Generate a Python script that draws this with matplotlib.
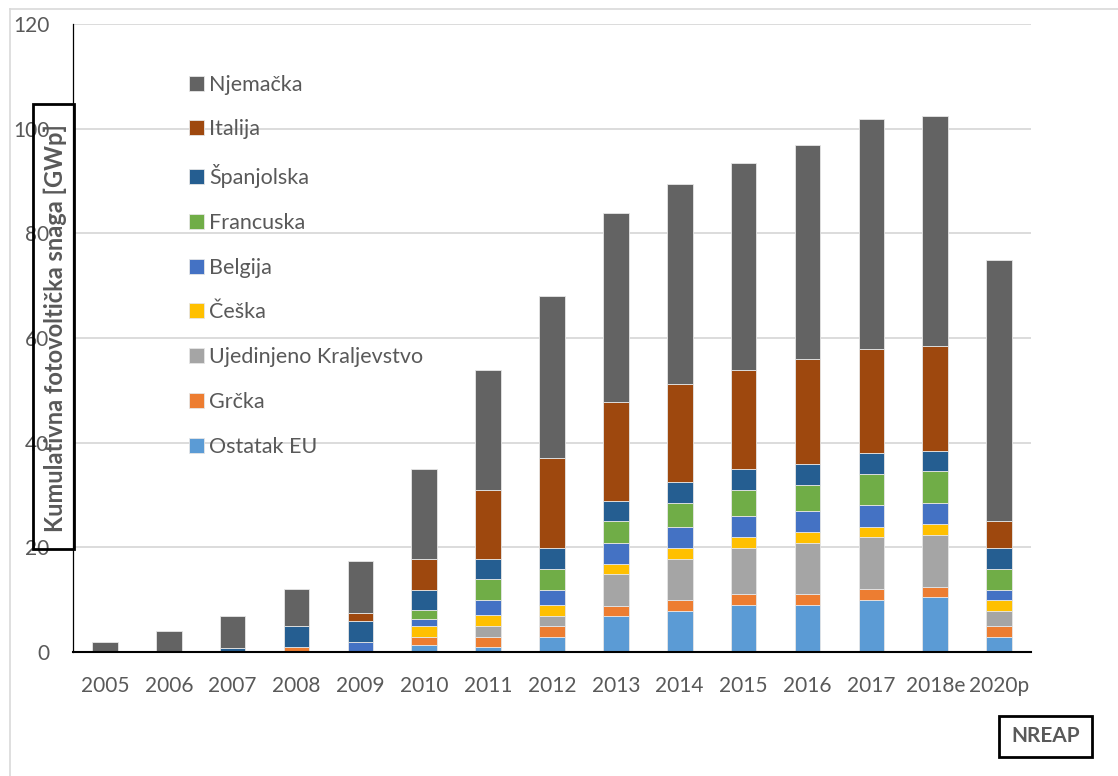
import matplotlib.pyplot as plt
import numpy as np
from matplotlib.patches import Rectangle
from matplotlib.lines import Line2D

plt.rcParams['font.family'] = ['Lato', 'DejaVu Sans']

# --- data (GWp, stacked per year) ---
years = ['2005', '2006', '2007', '2008', '2009', '2010', '2011', '2012', '2013',
         '2014', '2015', '2016', '2017', '2018e', '2020p']

ostatak = [0, 0, 0, 0, 0, 1.4, 0.9, 2.9, 6.9, 7.9, 8.9, 8.9, 10.0, 10.5, 2.9]
grcka = [0, 0, 0, 1.0, 0, 1.5, 2.0, 2.0, 1.9, 2.0, 2.1, 2.1, 2.0, 1.9, 2.0]
uk = [0, 0, 0, 0, 0, 0, 2.0, 2.0, 6.1, 7.9, 8.9, 9.9, 9.9, 10.0, 3.0]
ceska = [0, 0, 0, 0, 0, 2.0, 2.1, 2.0, 2.0, 2.1, 2.1, 2.0, 2.0, 2.0, 2.0]
belgija = [0, 0, 0, 0, 2.0, 1.5, 3.0, 3.0, 4.0, 4.0, 3.9, 4.0, 4.1, 4.0, 2.0]
francuska = [0, 0, 0, 0, 0, 1.6, 4.0, 4.0, 4.1, 4.6, 5.1, 5.1, 6.0, 6.1, 4.0]
spanjolska = [0, 0, 0.8, 3.9, 3.9, 3.9, 3.8, 4.0, 3.9, 3.9, 3.9, 3.9, 4.0, 3.9, 4.0]
italija = [0, 0, 0, 0, 1.5, 5.9, 13.1, 17.1, 18.9, 18.9, 18.9, 20.0, 19.9, 20.0, 5.1]
njemacka = [2.0, 4.0, 6.1, 7.1, 10.0, 17.1, 22.9, 31.0, 36.1, 38.1, 39.6, 41.0, 44.0, 44.0, 49.9]

# bottom-to-top stacking order
series = [
    ('Ostatak EU', ostatak, '#5B9BD5'),
    ('Grčka', grcka, '#ED7D31'),
    ('Ujedinjeno Kraljevstvo', uk, '#A5A5A5'),
    ('Češka', ceska, '#FFC000'),
    ('Belgija', belgija, '#4472C4'),
    ('Francuska', francuska, '#70AD47'),
    ('Španjolska', spanjolska, '#255E91'),
    ('Italija', italija, '#9E480E'),
    ('Njemačka', njemacka, '#636363'),
]

W, H = 1118, 776
fig = plt.figure(figsize=(W / 100, H / 100), dpi=100)
ax = fig.add_axes([73 / W, (H - 652) / H, (1031 - 73) / W, (652 - 24) / H])

x = np.arange(len(years))
bottom = np.zeros(len(years))
handles = []
for name, vals, col in series:
    vals = np.array(vals)
    b = ax.bar(x, vals, 0.4, bottom=bottom, color=col, edgecolor='#e6e6e6',
               linewidth=0.6, label=name, zorder=3)
    handles.append(b)
    bottom += vals

ax.set_xlim(-0.5, len(years) - 0.5)
ax.set_ylim(0, 120)
ax.set_yticks(np.arange(0, 121, 20))
ax.set_xticks(x)
ax.set_xticklabels(years)
ax.tick_params(axis='both', length=0, labelsize=15, colors='#595959')
ax.tick_params(axis='y', pad=17)
ax.tick_params(axis='x', pad=17)
ax.grid(axis='y', color='#d9d9d9', linewidth=1.3, zorder=0)
ax.set_axisbelow(True)
for s in ['top', 'right']:
    ax.spines[s].set_visible(False)
ax.spines['left'].set_color('black')
ax.spines['left'].set_linewidth(0.9)
ax.spines['bottom'].set_color('black')
ax.spines['bottom'].set_linewidth(1.5)
ax.spines['bottom'].set_zorder(4)

# legend, Njemačka on top
leg = ax.legend(handles[::-1], [s[0] for s in series[::-1]],
                loc='upper left', bbox_to_anchor=((180 - 73) / (1031 - 73), (652 - 66) / 628),
                frameon=False, fontsize=15.5, labelcolor='#595959',
                handlelength=0.7, handleheight=0.7, handletextpad=0.25,
                labelspacing=1.15, borderaxespad=0)

# y axis label in a black box
fig.patches.append(Rectangle((33 / W, (H - 549) / H), 41 / W, 445 / H,
                             transform=fig.transFigure, fill=False,
                             edgecolor='black', linewidth=2, zorder=5))
fig.text(55 / W, (H - 328) / H, 'Kumulativna fotovoltička snaga [GWp]',
         rotation=90, ha='center', va='center', fontsize=17,
         fontweight='bold', color='#595959')

# NREAP box
fig.patches.append(Rectangle((999 / W, (H - 757) / H), 93 / W, 41 / H,
                             transform=fig.transFigure, fill=False,
                             edgecolor='black', linewidth=2, zorder=5))
fig.text(1045.5 / W, (H - 736.5) / H, 'NREAP', ha='center', va='center',
         fontsize=15, fontweight='bold', color='#595959')

# light outer frame of the chart area
fig.lines.append(Line2D([10 / W, 1], [(H - 9) / H, (H - 9) / H],
                        transform=fig.transFigure, color='#d9d9d9', linewidth=1.2))
fig.lines.append(Line2D([10 / W, 10 / W], [0, (H - 9) / H],
                        transform=fig.transFigure, color='#d9d9d9', linewidth=1.2))

fig.savefig('out.png', dpi=100)
